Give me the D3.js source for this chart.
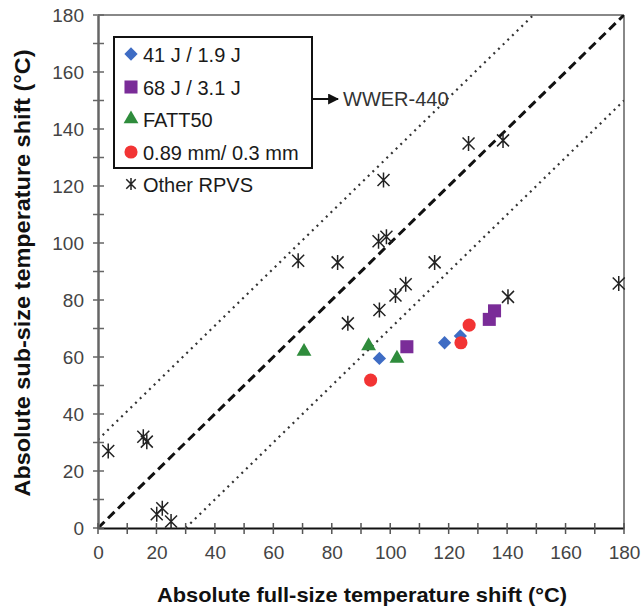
<!DOCTYPE html>
<html>
<head>
<meta charset="utf-8">
<script src="https://cdn.jsdelivr.net/npm/d3@7"></script>
<style>
  html, body { margin: 0; padding: 0; background: #fff; }
  svg { display: block; font-family: "Liberation Sans", Arial, sans-serif; }
</style>
</head>
<body>
<svg id="chart" width="642" height="610"></svg>
<script>
// Series: absolute full-size (x) vs sub-size (y) temperature shift, °C
const diamondX  = [96.3, 118.6, 124.0];
const diamondY  = [59.5, 65.0, 67.4];
const squareX   = [105.7, 133.9, 135.7];
const squareY   = [63.6, 73.2, 76.2];
const triangleX = [70.5, 92.6, 102.3];
const triangleY = [61.9, 63.9, 59.5];
const circleX   = [93.3, 124.2, 127.0];
const circleY   = [51.9, 65.0, 71.2];
const otherX = [3.5, 15.5, 16.7, 20.1, 22.0, 25.0, 68.5, 82.0, 85.5, 96.0, 96.3, 98.7, 97.7, 101.8, 105.3, 115.2, 126.8, 138.6, 140.3, 178.2];
const otherY = [27.0, 32.0, 30.3, 4.8, 6.9, 2.3, 93.8, 93.2, 71.8, 100.6, 76.5, 102.2, 122.1, 81.6, 85.5, 93.2, 134.9, 136.0, 81.1, 85.8];

const seriesNames = ["41 J / 1.9 J", "68 J / 3.1 J", "FATT50", "0.89 mm/ 0.3 mm", "Other RPVS"];
const tickValues = [0, 20, 40, 60, 80, 100, 120, 140, 160, 180];
const minorTicks = d3.range(0, 181, 10);
// Reference lines: 1:1 and ±30 °C band
const bandOffsets = [0, 31, -30];

const svg = d3.select("#chart");
const x = d3.scaleLinear().domain([0, 180]).range([98, 624]);
const y = d3.scaleLinear().domain([0, 180]).range([528, 15]);

// Clip for lines inside the plot
svg.append("clipPath").attr("id", "plotClip")
  .append("rect").attr("x", x(0)).attr("y", y(180))
  .attr("width", x(180) - x(0)).attr("height", y(0) - y(180));

// Frame (top and right)
svg.append("line").attr("x1", x(0)).attr("x2", x(180)).attr("y1", y(180)).attr("y2", y(180))
  .attr("stroke", "#888").attr("stroke-width", 2);
svg.append("line").attr("x1", x(180)).attr("x2", x(180)).attr("y1", y(180)).attr("y2", y(0))
  .attr("stroke", "#888").attr("stroke-width", 2);

// Reference lines
const lineG = svg.append("g").attr("clip-path", "url(#plotClip)");
bandOffsets.forEach((off, i) => {
  const x0 = Math.max(0, -off), x1 = Math.min(180, 180 - off);
  lineG.append("line")
    .attr("x1", x(x0)).attr("y1", y(x0 + off))
    .attr("x2", x(x1)).attr("y2", y(x1 + off))
    .attr("stroke", i === 0 ? "#111" : "#333")
    .attr("stroke-width", i === 0 ? 3 : 2.2)
    .attr("stroke-dasharray", i === 0 ? "9,5" : "2,4.5");
});

// Axes
const yAxis = svg.append("g").attr("transform", `translate(${x(0)},0)`)
  .call(d3.axisLeft(y).tickValues(tickValues).tickSize(0).tickPadding(14).tickFormat(d3.format("d")));
const xAxis = svg.append("g").attr("transform", `translate(0,${y(0)})`)
  .call(d3.axisBottom(x).tickValues(tickValues).tickSize(0).tickPadding(14).tickFormat(d3.format("d")));
yAxis.select(".domain").attr("stroke", "#666").attr("stroke-width", 2.5);
xAxis.select(".domain").attr("stroke", "#111").attr("stroke-width", 2);
[xAxis, yAxis].forEach(a => a.selectAll("text")
  .attr("font-size", 19).attr("fill", "#444").attr("font-family", "Liberation Sans, Arial, sans-serif"));
xAxis.selectAll("text").attr("dy", "0.9em");
yAxis.selectAll("text").attr("dx", "0");

// Crossing tick marks every 10
svg.append("g").selectAll("line").data(minorTicks).join("line")
  .attr("x1", x(0) - 5).attr("x2", x(0) + 6)
  .attr("y1", d => y(d)).attr("y2", d => y(d))
  .attr("stroke", "#666").attr("stroke-width", 1.5);
svg.append("g").selectAll("line").data(minorTicks).join("line")
  .attr("x1", d => x(d)).attr("x2", d => x(d))
  .attr("y1", y(0) - 5).attr("y2", y(0) + 6)
  .attr("stroke", "#555").attr("stroke-width", 1.5);

// Marker shapes
const asterisk = {
  draw(ctx, size) {
    const r = Math.sqrt(size) / 2;
    const d = r * 0.8;
    ctx.moveTo(0, -r); ctx.lineTo(0, r);
    ctx.moveTo(-d, -d); ctx.lineTo(d, d);
    ctx.moveTo(-d, d); ctx.lineTo(d, -d);
  }
};
const styles = [
  { type: d3.symbolSquare, size: 88, rot: 45, fill: "#3E6CC4", stroke: "none" },
  { type: d3.symbolSquare, size: 170, rot: 0, fill: "#7A2C98", stroke: "none" },
  { type: d3.symbolTriangle, size: 95, rot: 0, fill: "#2F8C3C", stroke: "none" },
  { type: d3.symbolCircle, size: 135, rot: 0, fill: "#F23434", stroke: "none" },
  { type: asterisk, size: 225, rot: 0, fill: "none", stroke: "#222" }
];
const series = [
  d3.zip(diamondX, diamondY),
  d3.zip(squareX, squareY),
  d3.zip(triangleX, triangleY),
  d3.zip(circleX, circleY),
  d3.zip(otherX, otherY)
];

function marker(g, s) {
  g.append("path")
    .attr("d", d3.symbol().type(s.type).size(s.size)())
    .attr("transform", `rotate(${s.rot})`)
    .attr("fill", s.fill).attr("stroke", s.stroke).attr("stroke-width", 1.5);
}

series.forEach((pts, i) => {
  svg.append("g").selectAll("g").data(pts).join("g")
    .attr("transform", d => `translate(${x(d[0])},${y(d[1])})`)
    .each(function() { marker(d3.select(this), styles[i]); });
});

// Legend
const legend = svg.append("g");
legend.append("rect").attr("x", 114).attr("y", 37).attr("width", 198).attr("height", 131)
  .attr("fill", "#fff").attr("stroke", "#111").attr("stroke-width", 2);
const rowY = [54, 87, 119, 152, 184];
seriesNames.forEach((name, i) => {
  const g = legend.append("g").attr("transform", `translate(131,${rowY[i]})`);
  const s = Object.assign({}, styles[i]);
  if (i === 4) s.size = 140;
  marker(g, s);
  g.append("text").attr("x", 12).attr("y", 7.5).attr("font-size", 20).attr("fill", "#1a1a1a")
    .text(name);
});

// Annotation arrow and label
svg.append("defs").append("marker").attr("id", "arrowHead")
  .attr("viewBox", "0 0 10 10").attr("refX", 9).attr("refY", 5)
  .attr("markerWidth", 5.5).attr("markerHeight", 5.5).attr("orient", "auto")
  .append("path").attr("d", "M0,0 L10,5 L0,10 z").attr("fill", "#111");
svg.append("line").attr("x1", 313).attr("y1", 99).attr("x2", 338).attr("y2", 99)
  .attr("stroke", "#111").attr("stroke-width", 2).attr("marker-end", "url(#arrowHead)");
svg.append("text").attr("x", 343).attr("y", 106).attr("font-size", 20).attr("fill", "#333")
  .text("WWER-440");

// Axis titles
svg.append("text").attr("x", 362).attr("y", 602).attr("text-anchor", "middle")
  .attr("font-size", 21).attr("font-weight", "bold").attr("fill", "#111")
  .attr("textLength", 410).attr("lengthAdjust", "spacingAndGlyphs")
  .text("Absolute full-size temperature shift (°C)");
svg.append("text").attr("transform", "translate(30,273) rotate(-90)").attr("text-anchor", "middle")
  .attr("font-size", 22).attr("font-weight", "bold").attr("fill", "#111")
  .attr("textLength", 447).attr("lengthAdjust", "spacingAndGlyphs")
  .text("Absolute sub-size temperature shift (°C)");
</script>
</body>
</html>
